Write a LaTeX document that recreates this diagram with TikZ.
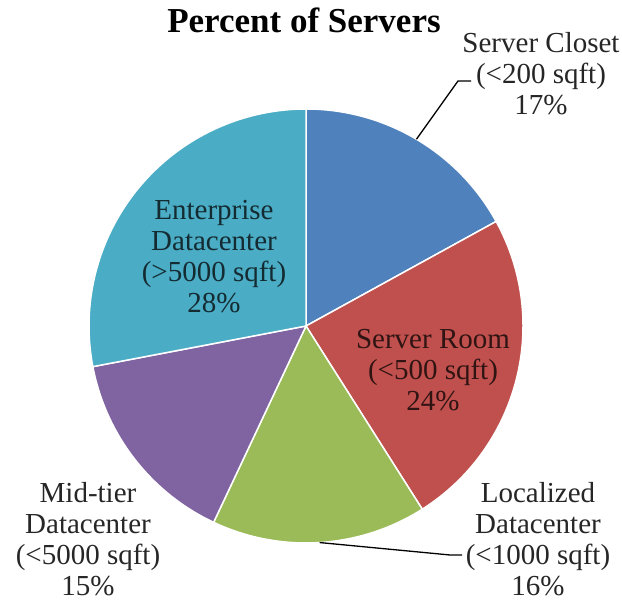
\documentclass[tikz,border=0pt]{standalone}
\usepackage{fontspec}
\setmainfont{Liberation Serif}
\usepackage{tikz}
\usetikzlibrary{calc}
\definecolor{closetblue}{HTML}{4F81BD}
\definecolor{roomred}{HTML}{C0504D}
\definecolor{localgreen}{HTML}{9BBB59}
\definecolor{midpurple}{HTML}{8064A2}
\definecolor{entaqua}{HTML}{4BACC6}

\begin{document}
\begin{tikzpicture}[x=1pt, y=1pt,
    slice/.style = {draw=white, line width=1.5pt, line join=round},
    lbl/.style = {align=center, inner sep=0pt, text=black!85, font=\fontsize{29}{31}\selectfont},
    lead/.style = {draw=black, line width=1.3pt}]
    \useasboundingbox (0,0) rectangle (622,601);
    \coordinate (c) at (306,275);

    \foreach \a/\b/\col in {90/28.8/closetblue, 28.8/-57.6/roomred, -57.6/-115.2/localgreen,
                            -115.2/-169.2/midpurple, -169.2/-270/entaqua}
        \filldraw[slice, fill=\col] (c) -- ($(c)+(\a:217)$) arc[start angle=\a, end angle=\b, radius=217] -- cycle;

    \node [anchor=base, font=\fontsize{35}{38}\selectfont\bfseries] (title) at (304,568) {Percent of Servers};

    \node [lbl] (closet) at (541,527) {Server Closet\\(<200 sqft)\\17\%};
    \node [lbl, text=roomred!25!black] (room) at (433,231) {Server Room\\(<500 sqft)\\24\%};
    \node [lbl] (local) at (538,62) {Localized\\Datacenter\\(<1000 sqft)\\16\%};
    \node [lbl] (mid) at (88,62) {Mid-tier\\Datacenter\\(<5000 sqft)\\15\%};
    \node [lbl, text=entaqua!25!black] (ent) at (214,344) {Enterprise\\Datacenter\\(>5000 sqft)\\28\%};

    \coordinate (closetedge) at ($(c)+(59.4:217)$);
    \coordinate (closetbend) at (458,520);
    \coordinate (closetend) at (471,520);
    \coordinate (localedge) at ($(c)+(-86.4:217)$);
    \coordinate (localbend) at (450,46);
    \coordinate (localend) at (462,46);

    \draw [lead] (closetedge) -- (closetbend) -- (closetend);
    \draw [lead] (localedge) -- (localbend) -- (localend);
\end{tikzpicture}
\end{document}
